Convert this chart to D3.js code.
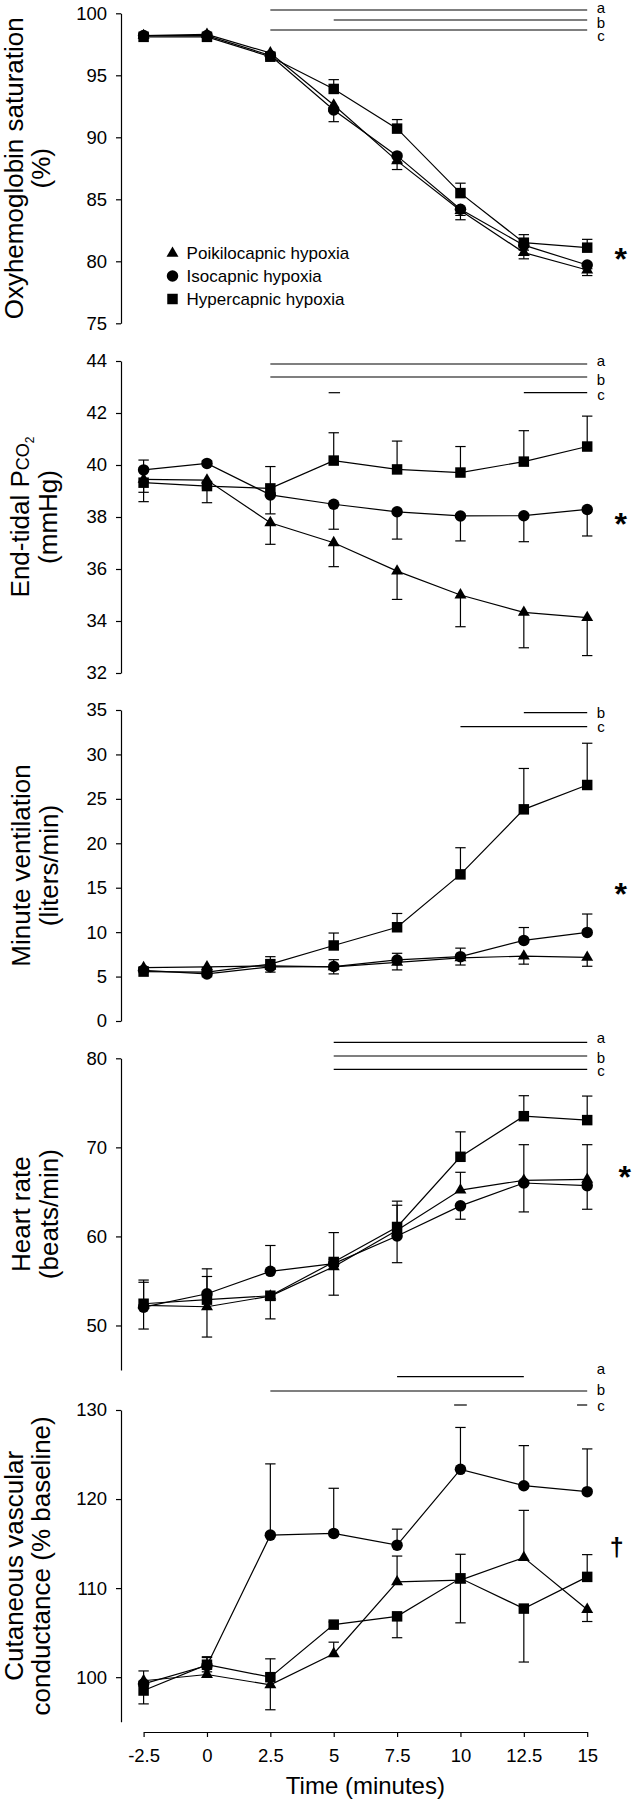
<!DOCTYPE html>
<html><head><meta charset="utf-8">
<script src="https://cdn.jsdelivr.net/npm/d3@7"></script>
<style>
body{margin:0;background:#fff}
svg{display:block}
text{font-family:"Liberation Sans",Arial,sans-serif;fill:#000}
</style>
</head><body>
<svg id="chart" width="632" height="1800"></svg>
<script>
// ---------------- DATA ----------------
const times = [-2.5, 0, 2.5, 5, 7.5, 10, 12.5, 15];
const seriesNames = ["Poikilocapnic hypoxia", "Isocapnic hypoxia", "Hypercapnic hypoxia"];

// Oxyhemoglobin saturation (%)  [poikilocapnic, isocapnic, hypercapnic]
const spo2Means = [
  [98.2, 98.3, 96.8, 92.6, 88.1, 84.1, 80.7, 79.3],
  [98.2, 98.2, 96.6, 92.2, 88.5, 84.2, 81.3, 79.7],
  [98.1, 98.1, 96.5, 93.9, 90.7, 85.5, 81.5, 81.1]];
// SE bars: positive = drawn upward, negative = drawn downward
const spo2Err = [
  [-0.2, -0.2, -0.3, -0.5, -0.7, -0.75, -0.5, -0.45],
  [-0.15, -0.15, -0.3, -0.94, -0.5, -0.5, -0.4, -0.3],
  [0.2, 0.2, 0.3, 0.75, 0.73, 0.8, 0.65, 0.67]];
const spo2Ticks = [75, 80, 85, 90, 95, 100];
const spo2Sig = [["a", [[2.5, 15]]], ["b", [[5, 15]]], ["c", [[2.5, 15]]]];

// End-tidal PCO2 (mmHg)
const petco2Means = [
  [39.45, 39.42, 37.78, 37.01, 35.92, 35.0, 34.33, 34.13],
  [39.81, 40.06, 38.85, 38.49, 38.2, 38.04, 38.05, 38.29],
  [39.32, 39.19, 39.1, 40.17, 39.83, 39.71, 40.13, 40.71]];
const petco2Err = [
  [-0.5, -0.3, -0.83, -0.92, -1.09, -1.22, -1.36, -1.46],
  [0.38, 0.1, -0.73, -0.96, -1.05, -0.96, -1.0, -1.02],
  [-0.73, -0.64, 0.84, 1.07, 1.09, 1.0, 1.19, 1.17]];
const petco2Ticks = [32, 34, 36, 38, 40, 42, 44];
const petco2Sig = [["a", [[2.5, 15]]], ["b", [[2.5, 15]]], ["c", [[4.8, 5.25], [12.5, 15]]]];

// Minute ventilation (liters/min)
const veMeans = [
  [6.0, 6.1, 6.2, 6.1, 6.6, 7.1, 7.3, 7.16],
  [5.7, 5.3, 6.1, 6.13, 6.87, 7.24, 9.07, 9.97],
  [5.56, 5.5, 6.4, 8.5, 10.55, 16.5, 23.82, 26.56]];
const veErr = [
  [-0.3, -0.3, -0.4, -0.8, -0.85, -0.8, -0.9, -1.0],
  [0.3, 0.3, -0.6, 0.77, 0.75, 0.96, 1.45, 2.07],
  [0.2, 0.2, 0.84, 1.4, 1.55, 3.0, 4.6, 4.7]];
const veTicks = [0, 5, 10, 15, 20, 25, 30, 35];
const veSig = [["b", [[12.5, 15]]], ["c", [[10, 15]]]];

// Heart rate (beats/min)
const hrMeans = [
  [52.25, 52.1, 53.3, 56.6, 60.7, 65.2, 66.3, 66.4],
  [52.06, 53.56, 56.08, 56.94, 60.05, 63.43, 66.0, 65.7],
  [52.44, 52.9, 53.34, 57.13, 61.06, 68.94, 73.5, 73.06]];
const hrErr = [
  [2.6, -3.4, -0.5, -3.2, 2.8, 2.0, 4.0, 3.9],
  [-2.46, 2.8, 2.9, 0.5, -3.0, -1.5, -3.25, -2.65],
  [2.66, 2.6, -2.6, 3.3, 2.9, 2.8, 2.3, 2.7]];
const hrTicks = [50, 60, 70, 80];
const hrSig = [["a", [[5, 15]]], ["b", [[5, 15]]], ["c", [[5, 15]]]];

// Cutaneous vascular conductance (% baseline)
const cvcMeans = [
  [99.6, 100.3, 99.14, 102.63, 110.7, 110.9, 113.43, 107.6],
  [99.25, 101.3, 115.95, 116.14, 114.82, 123.34, 121.5, 120.83],
  [98.5, 101.4, 100.0, 105.9, 106.83, 111.1, 107.7, 111.26]];
const cvcErr = [
  [1.1, 0.3, -2.8, 1.3, 2.9, 2.9, 5.3, -1.35],
  [0.3, 0.9, 8.0, 5.07, 1.8, 4.7, 4.5, 4.8],
  [-1.5, 0.9, 2.06, 0.3, -2.4, -5.0, -6.0, 2.5]];
const cvcTicks = [100, 110, 120, 130];
const cvcSig = [["a", [[7.5, 12.5]]], ["b", [[2.5, 15]]], ["c", [[9.75, 10.25], [14.6, 15]]]];

const xLabel = "Time (minutes)";

// ---------------- LAYOUT / STYLE ----------------
const FONT = '"Liberation Sans",Arial,sans-serif';
const axisX = 121;
const xAxisY = 1732;
const x = d3.scaleLinear().domain([-2.5, 15]).range([143.6, 587.2]);
const symTypes = [d3.symbolTriangle, d3.symbolCircle, d3.symbolSquare];
const symSizes = [62, 104, 110];

const panels = [
  {means: spo2Means, err: spo2Err, ticks: spo2Ticks, sig: spo2Sig, domain: [75, 100],
   top: 13.3, bottom: 323.3, title: [["Oxyhemoglobin saturation"], ["(%)"]], titleX: [23, 50],
   sigY: [10, 20, 30], sigLetterY: [12.5, 27.5, 41], mark: "*", markPos: [620.7, 251.7], legend: true},
  {means: petco2Means, err: petco2Err, ticks: petco2Ticks, sig: petco2Sig, domain: [32, 44],
   top: 361, bottom: 673, title: "pco2", titleX: [29, 57],
   sigY: [364, 377, 392.7], sigLetterY: [366, 385, 400], mark: "*", markPos: [620.7, 516.7]},
  {means: veMeans, err: veErr, ticks: veTicks, sig: veSig, domain: [0, 35],
   top: 710, bottom: 1021, title: [["Minute ventilation"], ["(liters/min)"]], titleX: [30, 58],
   sigY: [712.7, 726.7], sigLetterY: [717.5, 732], mark: "*", markPos: [620.7, 886.7]},
  {means: hrMeans, err: hrErr, ticks: hrTicks, sig: hrSig, domain: [45, 80],
   top: 1058.3, bottom: 1370, title: [["Heart rate"], ["(beats/min)"]], titleX: [30, 58],
   sigY: [1042.3, 1056, 1069.3], sigLetterY: [1042.5, 1062.5, 1076], mark: "*", markPos: [624.7, 1170]},
  {means: cvcMeans, err: cvcErr, ticks: cvcTicks, sig: cvcSig, domain: [95, 130],
   top: 1410, bottom: 1721.7, title: [["Cutaneous vascular"], ["conductance (% baseline)"]], titleX: [23, 50],
   sigY: [1376.7, 1391, 1405], sigLetterY: [1374, 1395, 1411], mark: "\u2020", markPos: [616.7, 1548.3]}
];

const svg = d3.select("#chart");
const SW = 1.2;

panels.forEach(p => {
  const y = d3.scaleLinear().domain(p.domain).range([p.bottom, p.top]);
  const g = svg.append("g");

  // y axis
  const ax = g.append("g").attr("transform", `translate(${axisX},0)`)
    .call(d3.axisLeft(y).tickValues(p.ticks).tickSize(5).tickSizeOuter(0).tickPadding(9).tickFormat(d => String(d)));
  ax.selectAll("path,line").attr("stroke", "#000").attr("stroke-width", SW);
  ax.selectAll("text").attr("font-size", 18.5).attr("font-family", FONT).attr("fill", "#000");

  // title
  const cy = (p.top + p.bottom) / 2;
  if (p.title === "pco2") {
    const t1 = g.append("text").attr("transform", `translate(${p.titleX[0]},${cy}) rotate(-90)`)
      .attr("text-anchor", "middle").attr("font-size", 26);
    t1.append("tspan").text("End-tidal P");
    t1.append("tspan").attr("font-size", 18).text("CO");
    t1.append("tspan").attr("font-size", 12).attr("dy", 5).text("2");
    g.append("text").attr("transform", `translate(${p.titleX[1]},${cy}) rotate(-90)`)
      .attr("text-anchor", "middle").attr("font-size", 26).text("(mmHg)");
  } else {
    p.title.forEach((line, i) => {
      g.append("text").attr("transform", `translate(${p.titleX[i]},${cy}) rotate(-90)`)
        .attr("text-anchor", "middle").attr("font-size", 26).text(line[0]);
    });
  }

  // significance bars
  p.sig.forEach(([letter, ranges], i) => {
    ranges.forEach(r => {
      g.append("line").attr("x1", x(r[0])).attr("x2", x(r[1]))
        .attr("y1", p.sigY[i]).attr("y2", p.sigY[i])
        .attr("stroke", "#000").attr("stroke-width", SW);
    });
    g.append("text").attr("x", 601).attr("y", p.sigLetterY[i]).attr("text-anchor", "middle")
      .attr("font-size", 15).text(letter);
  });

  // error bars
  p.means.forEach((vals, s) => {
    vals.forEach((v, k) => {
      const e = p.err[s][k];
      if (!e) return;
      const x0 = x(times[k]);
      const y1 = y(v + e);
      g.append("line").attr("x1", x0).attr("x2", x0).attr("y1", y(v)).attr("y2", y1)
        .attr("stroke", "#000").attr("stroke-width", SW);
      g.append("line").attr("x1", x0 - 5.2).attr("x2", x0 + 5.2).attr("y1", y1).attr("y2", y1)
        .attr("stroke", "#000").attr("stroke-width", SW);
    });
  });

  // lines
  const lineGen = d3.line().x((d, k) => x(times[k])).y(d => y(d));
  p.means.forEach(vals => {
    g.append("path").attr("d", lineGen(vals)).attr("fill", "none")
      .attr("stroke", "#000").attr("stroke-width", SW);
  });

  // markers
  p.means.forEach((vals, s) => {
    const sym = d3.symbol().type(symTypes[s]).size(symSizes[s]);
    g.selectAll(null).data(vals).enter().append("path")
      .attr("d", sym)
      .attr("transform", (d, k) => `translate(${x(times[k])},${y(d)})`)
      .attr("fill", "#000");
  });

  // significance mark
  if (p.mark === "*") {
    g.append("text").attr("x", p.markPos[0]).attr("y", p.markPos[1] + 18).attr("text-anchor", "middle")
      .attr("font-size", 32).attr("font-weight", "bold").text(p.mark);
  } else {
    g.append("text").attr("x", p.markPos[0]).attr("y", p.markPos[1] + 8).attr("text-anchor", "middle")
      .attr("font-size", 25).attr("font-weight", "bold").text(p.mark);
  }

  // legend
  if (p.legend) {
    const legY = [253.3, 276, 299];
    seriesNames.forEach((name, s) => {
      g.append("path").attr("d", d3.symbol().type(symTypes[s]).size(symSizes[s])())
        .attr("transform", `translate(172.5,${legY[s]})`).attr("fill", "#000");
      g.append("text").attr("x", 186.6).attr("y", legY[s] + 6).attr("font-size", 17).text(name);
    });
  }
});

// x axis
const xa = svg.append("g").attr("transform", `translate(0,${xAxisY})`)
  .call(d3.axisBottom(x).tickValues(times).tickSize(5).tickSizeOuter(0).tickPadding(12).tickFormat(d => String(d)));
xa.selectAll("path,line").attr("stroke", "#000").attr("stroke-width", SW);
xa.selectAll("text").attr("font-size", 18.5).attr("font-family", FONT).attr("fill", "#000");
svg.append("text").attr("x", (x.range()[0] + x.range()[1]) / 2).attr("y", 1794)
  .attr("text-anchor", "middle").attr("font-size", 24).text(xLabel);
</script>
</body></html>
